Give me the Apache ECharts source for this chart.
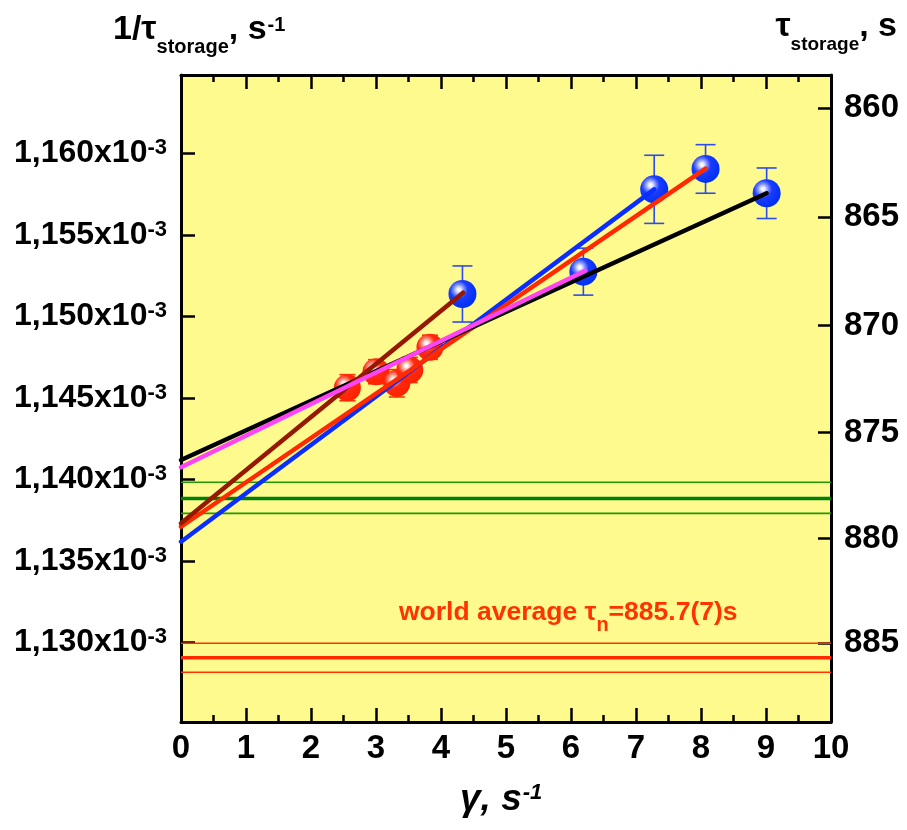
<!DOCTYPE html>
<html><head><meta charset="utf-8">
<script src="https://cdn.jsdelivr.net/npm/echarts@6/dist/echarts.min.js"></script>
<style>html,body{margin:0;padding:0;background:#fff}#c{width:907px;height:830px}</style>
</head><body><div id="c"></div>
<script>
// ---------- data ----------
const xTicks = [0,1,2,3,4,5,6,7,8,9,10];
const xTickLabels = ['0','1','2','3','4','5','6','7','8','9','10'];
const yTickValues = [1.130e-3,1.135e-3,1.140e-3,1.145e-3,1.150e-3,1.155e-3,1.160e-3];
const yTickLabels = ['1,130','1,135','1,140','1,145','1,150','1,155','1,160'];
const tauTicks = [860,865,870,875,880,885];
const tauTickLabels = ['860','865','870','875','880','885'];

const blueGamma = [4.33, 6.19, 7.28, 8.07, 9.01];
const blueRate  = [1.15137e-3, 1.15274e-3, 1.15779e-3, 1.15904e-3, 1.15755e-3];
const blueErr   = [1.72e-6, 1.44e-6, 2.09e-6, 1.49e-6, 1.55e-6];

const redGamma = [2.56, 3.00, 3.32, 3.52, 3.83];
const redRate  = [1.14562e-3, 1.14660e-3, 1.14589e-3, 1.14671e-3, 1.14810e-3];
const redErr   = [0.80e-6, 0.74e-6, 0.84e-6, 0.77e-6, 0.74e-6];

const fitBlueX  = [0, 7.28];  const fitBlueY  = [1.13617e-3, 1.15779e-3];
const fitRedX   = [0, 8.07];  const fitRedY   = [1.13709e-3, 1.15906e-3];
const fitBrownX = [0, 4.34];  const fitBrownY = [1.13730e-3, 1.15145e-3];
const fitBlackX = [0, 9.01];  const fitBlackY = [1.14118e-3, 1.15755e-3];
const fitPinkX  = [0, 6.22];  const fitPinkY  = [1.14074e-3, 1.15280e-3];

const greenBandRate = [1.13982e-3, 1.13883e-3, 1.13791e-3]; // upper, centre, lower
const worldTau = [885.0, 885.7, 886.4];                      // lower, centre, upper (s)

// ---------- chart ----------
const FONT = '"Liberation Sans", Arial, Helvetica, sans-serif';
const yMin = 1.125111e-3, yMax = 1.164804e-3;
const near = (a, b) => Math.abs(a - b) < 1e-9;

function hLine(v, color, width) {
  return {type:'line', data:[[0, v],[10, v]], symbol:'none', silent:true, z:1,
          lineStyle:{color:color, width:width}, animation:false};
}
function fitLine(xs, ys, color) {
  return {type:'line', data: xs.map((x,i)=>[x, ys[i]]), symbol:'none', silent:true, z:5,
          lineStyle:{color:color, width:4.5, cap:'round'}, animation:false};
}
function errBars(xs, ys, es, color, half) {
  return {type:'custom', z:2, silent:true, animation:false,
    data: xs.map((x,i)=>[x, ys[i], es[i]]),
    encode:{x:0, y:1},
    renderItem: function(params, api) {
      const x = api.value(0), y = api.value(1), e = api.value(2);
      const t = api.coord([x, y + e]), b = api.coord([x, y - e]);
      const st = {stroke:color, lineWidth:1.6};
      return {type:'group', children:[
        {type:'line', shape:{x1:t[0], y1:t[1], x2:b[0], y2:b[1]}, style:st},
        {type:'line', shape:{x1:t[0]-half, y1:t[1], x2:t[0]+half, y2:t[1]}, style:st},
        {type:'line', shape:{x1:b[0]-half, y1:b[1], x2:b[0]+half, y2:b[1]}, style:st}
      ]};
    }};
}
function sphere(c0, c1, c2, c3) {
  return {type:'radial', x:0.37, y:0.35, r:0.66, colorStops:[
    {offset:0, color:'#ffffff'}, {offset:0.1, color:c0},
    {offset:0.28, color:c1}, {offset:0.48, color:c2}, {offset:1, color:c3}]};
}

const axisLineStyle = {color:'#000', width:3};
const tickStyle = {color:'#000', width:2.5};

const option = {
  animation:false,
  backgroundColor:'#ffffff',
  grid:{left:181, right:76, top:75, bottom:108, show:true, backgroundColor:'#FFFA8E',
        borderWidth:0, containLabel:false, outerBoundsMode:'none'},
  xAxis:[
    {type:'value', position:'bottom', min:0, max:10, interval:1,
     axisLine:{show:true, onZero:false, lineStyle:axisLineStyle},
     axisTick:{show:true, inside:true, length:14, lineStyle:tickStyle},
     minorTick:{show:true, splitNumber:2, length:7, lineStyle:tickStyle},
     splitLine:{show:false},
     axisLabel:{show:true, margin:10, color:'#000', fontSize:33, fontWeight:'bold', fontFamily:FONT,
       formatter: v => { const i = xTicks.findIndex(t => Math.abs(t - v) < 1e-6); return i >= 0 ? xTickLabels[i] : ''; }}},
    {type:'value', position:'top', min:0, max:10, interval:1,
     axisLine:{show:true, onZero:false, lineStyle:axisLineStyle},
     axisTick:{show:true, inside:true, length:14, lineStyle:tickStyle},
     minorTick:{show:true, splitNumber:2, length:7, lineStyle:tickStyle},
     splitLine:{show:false}, axisLabel:{show:false}}
  ],
  yAxis:[
    {type:'value', position:'left', min:yMin, max:yMax,
     axisLine:{show:true, onZero:false, lineStyle:axisLineStyle},
     axisTick:{show:true, inside:true, length:14, lineStyle:tickStyle, customValues:yTickValues},
     splitLine:{show:false},
     axisLabel:{show:true, margin:14, customValues:yTickValues,
       formatter: v => { const i = yTickValues.findIndex(t => near(t, v)); return i >= 0 ? '{m|' + yTickLabels[i] + 'x10}{s|-3}' : ''; },
       rich:{
         m:{fontSize:32, fontWeight:'bold', fontFamily:FONT, color:'#000', lineHeight:32},
         s:{fontSize:22, fontWeight:'bold', fontFamily:FONT, color:'#000', lineHeight:22, verticalAlign:'top'}
       }}},
    {type:'value', position:'right', min:yMin, max:yMax,
     axisLine:{show:true, onZero:false, lineStyle:axisLineStyle},
     axisTick:{show:true, inside:true, length:13, lineStyle:tickStyle, customValues:tauTicks.map(t => 1 / t)},
     splitLine:{show:false},
     axisLabel:{show:true, margin:13, color:'#000', fontSize:33, fontWeight:'bold', fontFamily:FONT,
       customValues:tauTicks.map(t => 1 / t),
       formatter: v => { const i = tauTicks.findIndex(t => near(1 / t, v)); return i >= 0 ? tauTickLabels[i] : ''; }}},
    {type:'value', position:'right', min:yMin, max:yMax,
     axisLine:{show:false},
     axisTick:{show:true, inside:false, length:4, lineStyle:tickStyle, customValues:yTickValues},
     splitLine:{show:false}, axisLabel:{show:false}}
  ],
  series:[
    hLine(greenBandRate[0], '#1f9a00', 1.6),
    hLine(greenBandRate[1], '#008000', 3.5),
    hLine(greenBandRate[2], '#1f9a00', 1.6),
    hLine(1 / worldTau[0], '#ff3300', 1.6),
    hLine(1 / worldTau[1], '#ff2a00', 3.5),
    hLine(1 / worldTau[2], '#ff3300', 1.6),
    errBars(blueGamma, blueRate, blueErr, '#2a4cf0', 10),
    errBars(redGamma, redRate, redErr, '#ff3300', 8),
    {type:'scatter', z:3, silent:true, symbol:'circle', symbolSize:27,
     data: redGamma.map((g,i)=>[g, redRate[i]]),
     itemStyle:{color: sphere('#fff0ee', '#ff8a7a', '#ff2a10', '#ff2200'), opacity:1}},
    {type:'scatter', z:3, silent:true, symbol:'circle', symbolSize:28,
     data: blueGamma.map((g,i)=>[g, blueRate[i]]),
     itemStyle:{color: sphere('#eef0ff', '#8092ff', '#1a3cff', '#0030f0'), opacity:1}},
    fitLine(fitBlueX, fitBlueY, '#0a2eff'),
    fitLine(fitRedX, fitRedY, '#ff2a00'),
    fitLine(fitBlackX, fitBlackY, '#000000'),
    fitLine(fitBrownX, fitBrownY, '#951800'),
    fitLine(fitPinkX, fitPinkY, '#ff44f4')
  ],
  graphic:[
    {type:'text', x:113, y:3, silent:true, z:10,
     style:{text:'{m|1/τ}{b|storage}{m|, s}{p|-1}', align:'left', verticalAlign:'top',
       rich:{
         m:{fontSize:34, fontWeight:'bold', fontFamily:FONT, fill:'#000', lineHeight:54},
         b:{fontSize:20, fontWeight:'bold', fontFamily:FONT, fill:'#000', lineHeight:20, verticalAlign:'bottom'},
         p:{fontSize:20, fontWeight:'bold', fontFamily:FONT, fill:'#000', lineHeight:20, verticalAlign:'top', padding:[12,0,0,1]}
       }}},
    {type:'text', x:897, y:0, silent:true, z:10,
     style:{text:'{m|τ}{b|storage}{m|, s}', align:'right', verticalAlign:'top',
       rich:{
         m:{fontSize:34, fontWeight:'bold', fontFamily:FONT, fill:'#000', lineHeight:54},
         b:{fontSize:19, fontWeight:'bold', fontFamily:FONT, fill:'#000', lineHeight:19, verticalAlign:'bottom'}
       }}},
    {type:'text', x:460, y:775, silent:true, z:10,
     style:{text:'{m|γ, s}{p|-1}', align:'left', verticalAlign:'top',
       rich:{
         m:{fontSize:37, fontWeight:'bold', fontStyle:'italic', fontFamily:FONT, fill:'#000', lineHeight:50},
         p:{fontSize:22, fontWeight:'bold', fontStyle:'italic', fontFamily:FONT, fill:'#000', lineHeight:22, verticalAlign:'top', padding:[7,0,0,1]}
       }}},
    {type:'text', x:399, y:591, silent:true, z:10,
     style:{text:'{m|world average τ}{b|n}{m|=885.7(7)s}', align:'left', verticalAlign:'top',
       rich:{
         m:{fontSize:26.5, fontWeight:'bold', fontFamily:FONT, fill:'#ff3300', lineHeight:44},
         b:{fontSize:20, fontWeight:'bold', fontFamily:FONT, fill:'#ff3300', lineHeight:20, verticalAlign:'bottom'}
       }}}
  ]
};
const chart = echarts.init(document.getElementById('c'), null, {renderer:'canvas'});
chart.setOption(option);
</script>
</body></html>
